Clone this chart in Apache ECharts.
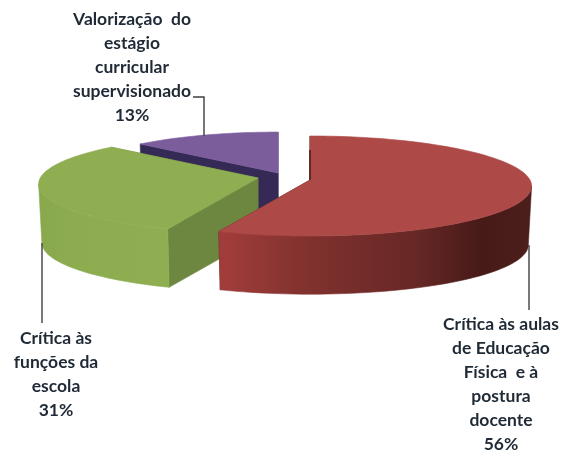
<!DOCTYPE html>
<html>
<head>
<meta charset="utf-8">
<style>html,body{margin:0;padding:0;background:#fff}#c{width:568px;height:450px}</style>
<script src="https://cdn.jsdelivr.net/npm/echarts@6/dist/echarts.min.js"></script>
</head>
<body>
<div id="c"></div>
<script>
// --- data ---
var categories = ['Crítica às aulas\nde Educação\nFísica  e à\npostura\ndocente', 'Crítica às\nfunções da\nescola', 'Valorização  do\nestágio\ncurricular\nsupervisionado'];
var values = [56, 31, 13];

// --- layout and style, by slice ---
var apexes = [[310, 180], [258, 178], [278, 173]];
var radiusScale = [1, 0.99, 0.93];
var labelAnchors = [[501, 323], [56, 337], [132, 18]];
var leaders = [
  [[529, 245], [529, 310]],
  [[42, 243], [42, 323]],
  [[193, 97], [204, 97], [204, 136]]
];
var topColors = ['#ad4a47', '#8fae52', '#7b5d9c'];
var faceColors = ['#4a1b19', '#6d8640', '#352a55'];
var wallStops = [
  [[225, '#a03d3b'], [300, '#83322f'], [420, '#652725'], [480, '#471a18'], [532, '#4c1e1c']],
  [[38, '#88a84c'], [70, '#8cac4f'], [162, '#8eae51']],
  [[138, '#352a55'], [278, '#352a55']]
];
var RX = 220, RY = 49.3, PERSP = 0.12, DEPTH = 59, BOTTOM_SCALE = 0.985;

var total = values.reduce(function (a, b) { return a + b; }, 0);
var starts = [];
values.reduce(function (acc, v, i) { starts[i] = acc; return acc + v; }, 0);

function xFactor(deg) {
  var t = deg * Math.PI / 180;
  return Math.sin(t) / (1 + PERSP * Math.cos(t));
}
// angles where the rim is widest on screen: the wall's side silhouette
function silhouette(from, to, sign) {
  var best = from;
  for (var d = from; d <= to; d += 0.5) if (sign * xFactor(d) > sign * xFactor(best)) best = d;
  return best;
}
var wallFrom = silhouette(60, 120, 1), wallTo = silhouette(240, 300, -1);

function project(i, deg, scale, dy) {
  var t = deg * Math.PI / 180, u = Math.sin(t), v = -Math.cos(t);
  var s = 1 / (1 - PERSP * v), r = radiusScale[i] * scale;
  return [apexes[i][0] + RX * r * u * s, apexes[i][1] + RY * r * v * s + dy];
}
function arc(i, a0, a1, scale, dy) {
  var pts = [], n = Math.max(2, Math.ceil(Math.abs(a1 - a0) / 2));
  for (var k = 0; k <= n; k++) pts.push(project(i, a0 + (a1 - a0) * k / n, scale, dy));
  return pts;
}
function poly(points, fill, stroke) {
  return { type: 'polygon', shape: { points: points }, style: { fill: fill, stroke: stroke || fill, lineWidth: 0.6 } };
}
function wallFill(i) {
  var st = wallStops[i], x0 = st[0][0], x1 = st[st.length - 1][0];
  return { type: 'linear', global: true, x: x0, y: 0, x2: x1, y2: 0,
    colorStops: st.map(function (s) { return { offset: (s[0] - x0) / (x1 - x0), color: s[1] }; }) };
}

function renderSlice(params, api) {
  var i = api.value(0), val = api.value(1);
  var a0 = starts[i] / total * 360, a1 = a0 + val / total * 360;
  var kids = [];
  var apex = apexes[i], apexLow = [apex[0], apex[1] + DEPTH];
  // cut faces
  [a0, a1].forEach(function (a) {
    var p = project(i, a, 1, 0), q = project(i, a, BOTTOM_SCALE, DEPTH);
    kids.push(poly([apex, p, q, apexLow], faceColors[i]));
  });
  // outer wall, front-facing part only
  var w0 = Math.max(a0, wallFrom), w1 = Math.min(a1, wallTo);
  if (w1 > w0) {
    var wall = arc(i, w0, w1, 1, 0).concat(arc(i, w1, w0, BOTTOM_SCALE, DEPTH));
    kids.push(poly(wall, wallFill(i)));
  }
  // top surface
  kids.push(poly([apex].concat(arc(i, a0, a1, 1, 0)), topColors[i]));
  // thin dark seam on the red slice's straight back edge
  if (i === 0) {
    kids.push({ type: 'polyline', shape: { points: [apex, [apex[0], apex[1] - 30]] },
      style: { stroke: faceColors[0], lineWidth: 1.5, fill: null } });
  }
  // leader
  kids.push({ type: 'polyline', shape: { points: leaders[i] }, style: { stroke: '#3f3f3f', lineWidth: 1.4, fill: null } });
  // label
  kids.push({ type: 'text', style: {
    x: labelAnchors[i][0], y: labelAnchors[i][1],
    text: categories[i] + '\n' + val + '%',
    font: 'bold 17.5px Lato, "Open Sans", sans-serif', fill: '#1f2a36',
    align: 'center', verticalAlign: 'top', lineHeight: 24
  }, y: -11 });
  return { type: 'group', children: kids };
}

// back to front
var drawOrder = [2, 1, 0];
var chart = echarts.init(document.getElementById('c'), null, { renderer: 'canvas' });
chart.setOption({
  backgroundColor: '#ffffff',
  animation: false,
  xAxis: { show: false }, yAxis: { show: false },
  series: [{
    type: 'custom',
    coordinateSystem: 'none',
    renderItem: renderSlice,
    dimensions: ['index', 'value'],
    data: drawOrder.map(function (i) { return [i, values[i]]; })
  }]
});
</script>
</body>
</html>
